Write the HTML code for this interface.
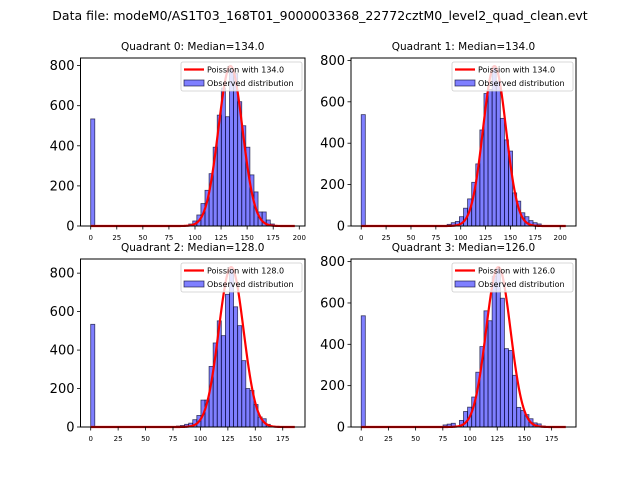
<!DOCTYPE html>
<html><head><meta charset="utf-8">
<style>
body{margin:0;background:#fff;}
svg{display:block;font-family:"DejaVu Sans","Liberation Sans",sans-serif;}
</style></head>
<body>
<svg id="fig" width="640" height="480" viewBox="0 0 640 480">
<text x="320" y="20" font-size="12.5" text-anchor="middle">Data file: modeM0/AS1T03_168T01_9000003368_22772cztM0_level2_quad_clean.evt</text>
</svg>
<script>
// Quadrant data
const quadTitles = ["Quadrant 0: Median=134.0","Quadrant 1: Median=134.0","Quadrant 2: Median=128.0","Quadrant 3: Median=126.0"];
const poissonLabels = ["Poission with 134.0","Poission with 134.0","Poission with 128.0","Poission with 126.0"];
const lambdas = [134,134,128,126];
const dataMax = [195.7,205.6,186,188];
const curvePeaks = [798,773,832,774];
const xTickVals = [[0,25,50,75,100,125,150,175,200],[0,25,50,75,100,125,150,175,200],[0,25,50,75,100,125,150,175],[0,25,50,75,100,125,150,175]];
const yTickVals = [0,200,400,600,800];
// bin indices (of 50 bins spanning 0..dataMax) and counts
const q0Bins = [0,23,24,25,26,27,28,29,30,31,32,33,34,35,36,37,38,39,40,41,42,43,44,45];
const q0Counts = [534,3,10,25,55,112,178,261,393,553,688,545,780,760,620,500,393,255,170,70,70,30,10,3];
const q1Bins = [0,21,22,23,24,25,26,27,28,29,30,31,32,33,34,35,36,37,38,39,40,41,42,43];
const q1Counts = [538,8,16,22,45,86,131,211,300,464,640,660,770,700,520,416,362,160,120,64,45,26,16,10];
const q2Bins = [0,21,22,23,24,25,26,27,28,29,30,31,32,33,34,35,36,37,38,39,40,41,42,43,44];
const q2Counts = [534,5,8,14,20,38,60,140,140,315,437,552,475,690,820,625,527,345,200,190,117,52,43,14,5];
const q3Bins = [0,20,21,22,23,24,25,26,27,28,29,30,31,32,33,34,35,36,37,38,39,40,41,42,43,44];
const q3Counts = [538,10,14,18,5,32,75,96,145,265,389,562,514,730,768,623,379,370,250,95,80,60,40,20,15,5];
const allBins=[q0Bins,q1Bins,q2Bins,q3Bins];
const allCounts=[q0Counts,q1Counts,q2Counts,q3Counts];

const NS="http://www.w3.org/2000/svg";
const svg=document.getElementById('fig');
function mk(tag,attrs,parent){const e=document.createElementNS(NS,tag);for(const k in attrs)e.setAttribute(k,attrs[k]);(parent||svg).appendChild(e);return e;}
const boxes=[[80.5,58,305,226],[351,58,576,226],[80.5,259,305,427],[351,259,576,427]];

for(let q=0;q<4;q++){
  const [L,T,R,B]=boxes[q];
  const g=mk('g',{});
  
  
  const xmin=-0.05*dataMax[q], xmax=1.05*dataMax[q];
  const counts=allCounts[q], bins=allBins[q];
  const curveFn=x=>curvePeaks[q]*Math.exp(-Math.pow(x-lambdas[q],2)/(2*lambdas[q]));
  const ymax=1.05*Math.max(Math.max(...counts),curvePeaks[q]);
  const sx=v=>L+(v-xmin)/(xmax-xmin)*(R-L);
  const sy=v=>B-v/ymax*(B-T);
  const bw=dataMax[q]/50;
  for(let i=0;i<bins.length;i++){
    const x0=sx(bins[i]*bw), x1=sx((bins[i]+1)*bw);
    const r=mk('rect',{x:x0,y:sy(counts[i]),width:x1-x0,height:B-sy(counts[i]),fill:'rgba(0,0,255,0.5)',stroke:'rgba(10,10,50,0.75)','stroke-width':0.8},g);
    
    
  }
  let d='';
  for(let k=0;k<=300;k++){const x=dataMax[q]*k/300;d+=(k?'L':'M')+sx(x).toFixed(2)+','+sy(curveFn(x)).toFixed(2);}
  const p=mk('path',{d:d,fill:'none',stroke:'red','stroke-width':2.2},g);
  
  
  const fr=mk('rect',{x:L,y:T,width:R-L,height:B-T,fill:'none',stroke:'#000','stroke-width':1},g);
  
  
  for(const v of xTickVals[q]){
    const x=sx(v);
    mk('line',{x1:x,x2:x,y1:B,y2:B+3.5,stroke:'#000','stroke-width':0.8},g);
    const t=mk('text',{x:x,y:B+14,'font-size':7,'text-anchor':'middle'},g);
    t.textContent=v;
    
    
  }
  for(const v of yTickVals){
    const y=sy(v);
    mk('line',{x1:L,x2:L-3.5,y1:y,y2:y,stroke:'#000','stroke-width':0.8},g);
    const t=mk('text',{x:L-6,y:y+4.5,'font-size':13,'text-anchor':'end'},g);
    t.textContent=v;
    
    
  }
  const tt=mk('text',{x:(L+R)/2,y:T-8,'font-size':10.5,'text-anchor':'middle'},g);
  tt.textContent=quadTitles[q];
  
  
  const lg=mk('g',{},g);
  
  
  const lx=R-124, ly=T+4;
  mk('rect',{x:lx,y:ly,width:121,height:29,fill:'rgba(255,255,255,0.8)',stroke:'#ccc','stroke-width':0.8,rx:2},lg);
  mk('line',{x1:lx+3,x2:lx+23,y1:ly+7.5,y2:ly+7.5,stroke:'red','stroke-width':2.2},lg);
  const l1=mk('text',{x:lx+26,y:ly+10.5,'font-size':8},lg);l1.textContent=poissonLabels[q];
  
  
  mk('rect',{x:lx+3,y:ly+18,width:20,height:6,fill:'rgba(0,0,255,0.5)',stroke:'rgba(10,10,50,0.75)','stroke-width':0.8},lg);
  const l2=mk('text',{x:lx+26,y:ly+24,'font-size':8},lg);l2.textContent='Observed distribution';
  
  
}
</script>
</body></html>
